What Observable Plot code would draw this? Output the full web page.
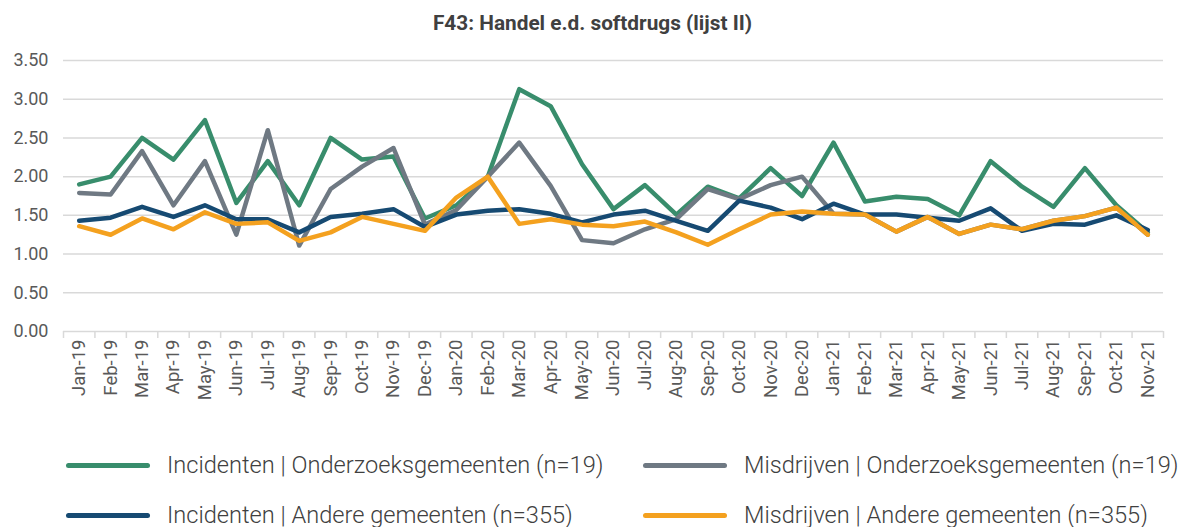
<!DOCTYPE html>
<html><head><meta charset="utf-8">
<script src="https://cdn.jsdelivr.net/npm/d3@7"></script>
<script src="https://cdn.jsdelivr.net/npm/@observablehq/plot@0.6"></script>
<style>
body{margin:0;background:#fff;font-family:Roboto,sans-serif;width:1193px;overflow:hidden;}
#title{height:45px;line-height:46px;text-align:center;font-weight:700;font-size:20.8px;color:#404040;padding-right:8px;}
#chart svg{display:block;}
#legend{position:relative;height:117px;}
.item{position:absolute;display:flex;align-items:center;height:30px;font-size:23.6px;font-weight:300;color:#404040;white-space:nowrap;}
.sw{width:84px;height:5px;border-radius:3px;margin-right:17px;}
</style></head><body>
<div id="title">F43: Handel e.d. softdrugs (lijst II)</div>
<div id="chart"></div>
<div id="legend"></div>
<script>
const months = ["Jan-19","Feb-19","Mar-19","Apr-19","May-19","Jun-19","Jul-19","Aug-19","Sep-19","Oct-19","Nov-19","Dec-19",
  "Jan-20","Feb-20","Mar-20","Apr-20","May-20","Jun-20","Jul-20","Aug-20","Sep-20","Oct-20","Nov-20","Dec-20",
  "Jan-21","Feb-21","Mar-21","Apr-21","May-21","Jun-21","Jul-21","Aug-21","Sep-21","Oct-21","Nov-21"];
const seriesNames = ["Incidenten | Onderzoeksgemeenten (n=19)","Misdrijven | Onderzoeksgemeenten (n=19)",
  "Incidenten | Andere gemeenten (n=355)","Misdrijven | Andere gemeenten (n=355)"];
const seriesColors = ["#388d6c","#6f7983","#164a72","#f4a11f"];
const incOnderzoek = [1.90,2.00,2.50,2.22,2.73,1.66,2.20,1.63,2.50,2.22,2.26,1.46,
  1.63,2.00,3.13,2.91,2.16,1.58,1.89,1.51,1.87,1.72,2.11,1.75,
  2.44,1.68,1.74,1.71,1.50,2.20,1.87,1.61,2.11,1.63,1.28];
const misOnderzoek = [1.79,1.77,2.33,1.63,2.20,1.25,2.60,1.11,1.84,2.13,2.37,1.38,
  1.57,2.00,2.44,1.88,1.18,1.14,1.32,1.45,1.84,1.71,1.89,2.00,
  1.52,1.51,1.29,1.48,1.26,1.38,1.32,1.43,1.49,1.60,1.25];
const incAndere = [1.43,1.47,1.61,1.48,1.63,1.45,1.45,1.28,1.48,1.52,1.58,1.35,
  1.51,1.56,1.58,1.52,1.41,1.51,1.56,1.43,1.30,1.69,1.60,1.45,
  1.65,1.51,1.51,1.47,1.43,1.59,1.30,1.39,1.38,1.50,1.31];
const misAndere = [1.36,1.25,1.46,1.32,1.54,1.39,1.41,1.17,1.28,1.48,1.39,1.30,
  1.73,2.00,1.39,1.45,1.38,1.36,1.42,1.28,1.12,1.32,1.51,1.55,
  1.52,1.51,1.29,1.48,1.26,1.38,1.32,1.43,1.49,1.60,1.25];
const yTicks = [0,0.5,1,1.5,2,2.5,3,3.5];

const allSeries = [incOnderzoek, misOnderzoek, incAndere, misAndere];
const rows = [];
allSeries.forEach((vals, s) => vals.forEach((v, i) => rows.push({i, v, s: seriesNames[s]})));
const boundaries = d3.range(months.length + 1).map(i => i - 0.5);

const chart = Plot.plot({
  width: 1193,
  height: 365,
  marginTop: 15,
  marginBottom: 79,
  marginLeft: 63,
  marginRight: 30,
  style: {fontFamily: "Roboto, sans-serif", background: "#fff"},
  x: {type: "linear", domain: [-0.5, months.length - 0.5]},
  y: {domain: [0, 3.5]},
  color: {domain: seriesNames, range: seriesColors},
  marks: [
    Plot.gridY({ticks: yTicks, stroke: "#d9d9d9", strokeOpacity: 1, strokeWidth: 1.5}),
    Plot.axisY({ticks: yTicks, tickFormat: d3.format(".2f"), tickSize: 0, tickPadding: 15, fontSize: 18, fill: "#595959", label: null}),
    Plot.axisX({ticks: boundaries, tickFormat: () => "", tickSize: 7, stroke: "#d9d9d9", strokeWidth: 1.5, strokeOpacity: 1, label: null}),
    Plot.axisX({ticks: d3.range(months.length), tickFormat: i => months[i], tickRotate: -90, tickSize: 0, tickPadding: 8, fontSize: 18.5, fill: "#595959", label: null}),
    Plot.line(rows, {x: "i", y: "v", z: "s", stroke: "s", strokeWidth: 4.5, strokeLinejoin: "round"})
  ]
});
document.getElementById("chart").appendChild(chart);

const legend = document.getElementById("legend");
const pos = [[66, 40], [643, 40], [66, 90], [643, 90]];
seriesNames.forEach((name, k) => {
  const it = document.createElement("div");
  it.className = "item";
  it.style.left = pos[k][0] + "px";
  it.style.top = pos[k][1] + "px";
  const sw = document.createElement("span");
  sw.className = "sw";
  sw.style.background = seriesColors[k];
  it.appendChild(sw);
  it.appendChild(document.createTextNode(name));
  legend.appendChild(it);
});
</script>
</body></html>
